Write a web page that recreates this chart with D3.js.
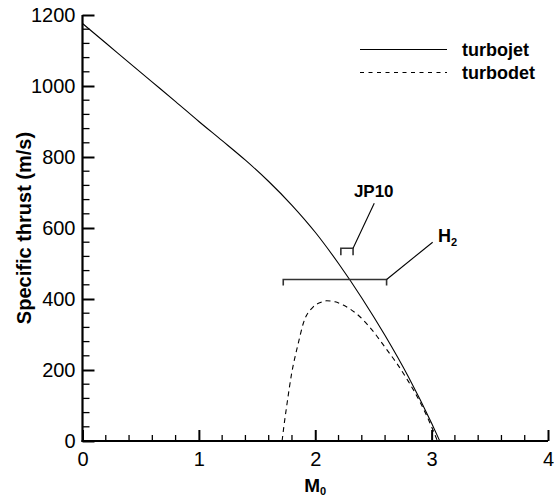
<!DOCTYPE html>
<html><head><meta charset="utf-8">
<script src="https://cdn.jsdelivr.net/npm/d3@7"></script>
<style>body{margin:0;background:#fff}svg{display:block}text{font-family:"Liberation Sans",Arial,sans-serif}</style>
</head><body><svg id="c" width="554" height="498"></svg>
<script>
// Data
const turbojetM = [0, 0.2, 0.4, 0.6, 0.8, 1.0, 1.2, 1.4, 1.6, 1.8, 2.0, 2.2, 2.4, 2.6, 2.8, 3.0, 3.07];
const turbojetF = [1176, 1121, 1066, 1011, 956, 900, 846, 791, 731, 664, 588, 500, 403, 297, 181, 50, 0];
const turbodetM = [1.715, 1.73, 1.754, 1.797, 1.854, 1.897, 1.983, 2.05, 2.098, 2.17, 2.24, 2.384, 2.5, 2.613, 2.7, 2.8, 2.9, 3.0, 3.05];
const turbodetF = [0, 40, 97, 190, 275, 331, 378, 391, 395, 392, 383, 350, 308, 258, 219, 168, 110, 40, 0];
const xTicks = [0, 1, 2, 3, 4];
const yTicks = [0, 200, 400, 600, 800, 1000, 1200];
const legendNames = ["turbojet", "turbodet"];
const jp10Bracket = [2.22, 2.325, 543];   // M from, M to, thrust
const h2Bracket = [1.725, 2.613, 455];
const jp10Leader = [2.325, 543, 2.507, 670];
const h2Leader = [2.613, 455, 3.009, 560];
const jp10Label = [2.332, 687];
const h2Label = [3.054, 561];

const svg = d3.select("#c");
const x = d3.scaleLinear().domain([0, 4]).range([82.5, 548]);
const y = d3.scaleLinear().domain([0, 1200]).range([441, 15]);

// minor ticks
const xMinor = d3.range(0, 4.0001, 0.2).filter(v => Math.abs(v - Math.round(v)) > 1e-6);
const yMinor = d3.range(0, 1200.1, 40).filter(v => v % 200 !== 0);

const gx = svg.append("g").attr("transform", `translate(0,${y(0)})`);
gx.selectAll("line.mi").data(xMinor).join("line")
  .attr("x1", d => x(d)).attr("x2", d => x(d)).attr("y1", 0).attr("y2", -6)
  .attr("stroke", "#000").attr("stroke-width", 1.3);
gx.call(d3.axisBottom(x).tickValues(xTicks).tickSize(-11).tickPadding(11).tickFormat(d3.format("d")))
  .call(g => g.select(".domain").attr("stroke-width", 2.2).attr("d", `M${x(0)-1},0H${x(4)}`))
  .call(g => g.selectAll(".tick line").attr("stroke-width", 2))
  .call(g => g.selectAll(".tick text").attr("font-size", 20).attr("font-family", "Liberation Sans, Arial").attr("fill", "#000"));

const gy = svg.append("g").attr("transform", `translate(${x(0)},0)`);
gy.selectAll("line.mi").data(yMinor).join("line")
  .attr("y1", d => y(d)).attr("y2", d => y(d)).attr("x1", 0).attr("x2", 7)
  .attr("stroke", "#000").attr("stroke-width", 1.3);
gy.call(d3.axisLeft(y).tickValues(yTicks).tickSize(-12).tickPadding(7).tickFormat(d3.format("d")))
  .call(g => g.select(".domain").attr("stroke-width", 2.2).attr("d", `M0,${y(0)+1}V${y(1200)}`))
  .call(g => g.selectAll(".tick line").attr("stroke-width", 2))
  .call(g => g.selectAll(".tick text").attr("font-size", 20).attr("font-family", "Liberation Sans, Arial").attr("fill", "#000"));

// axis titles
svg.append("text").attr("transform", `translate(31,${(y(0)+y(1200))/2}) rotate(-90)`)
  .attr("text-anchor", "middle").attr("font-size", 20).attr("font-weight", "bold").text("Specific thrust (m/s)");
const mt = svg.append("text").attr("x", x(2)).attr("y", 492).attr("text-anchor", "middle")
  .attr("font-size", 19).attr("font-weight", "bold");
mt.append("tspan").text("M");
mt.append("tspan").attr("font-size", 11).attr("dy", 3).text("0");

// curves
const line = d3.line().x(d => x(d[0])).y(d => y(d[1])).curve(d3.curveMonotoneX);
svg.append("path").datum(d3.zip(turbojetM, turbojetF)).attr("d", line)
  .attr("fill", "none").attr("stroke", "#000").attr("stroke-width", 1.1);
svg.append("path").datum(d3.zip(turbodetM, turbodetF)).attr("d", line)
  .attr("fill", "none").attr("stroke", "#000").attr("stroke-width", 1.1).attr("stroke-dasharray", "5,4");

// brackets
function bracket(b, tick) {
  const p = d3.path();
  p.moveTo(x(b[0]), y(b[2]) + tick); p.lineTo(x(b[0]), y(b[2]));
  p.lineTo(x(b[1]), y(b[2])); p.lineTo(x(b[1]), y(b[2]) + tick);
  svg.append("path").attr("d", p.toString()).attr("fill", "none").attr("stroke", "#333").attr("stroke-width", 1.6);
}
bracket(jp10Bracket, 7);
bracket(h2Bracket, 6);
[jp10Leader, h2Leader].forEach(l => svg.append("line")
  .attr("x1", x(l[0])).attr("y1", y(l[1])).attr("x2", x(l[2])).attr("y2", y(l[3]))
  .attr("stroke", "#000").attr("stroke-width", 1.1));
svg.append("text").attr("x", x(jp10Label[0])).attr("y", y(jp10Label[1]))
  .attr("font-size", 17).attr("font-weight", "bold").text("JP10");
const ht = svg.append("text").attr("x", x(h2Label[0])).attr("y", y(h2Label[1]))
  .attr("font-size", 18).attr("font-weight", "bold");
ht.append("tspan").text("H");
ht.append("tspan").attr("font-size", 11).attr("dy", 4).text("2");

// legend
const lg = svg.append("g");
legendNames.forEach((n, i) => {
  const yy = 49.5 + i * 23;
  lg.append("line").attr("x1", 360).attr("x2", 447).attr("y1", yy).attr("y2", yy)
    .attr("stroke", "#000").attr("stroke-width", 1.1).attr("stroke-dasharray", i ? "4,4.5" : null);
  lg.append("text").attr("x", 462).attr("y", yy + 6).attr("font-size", 18).attr("font-weight", "bold").text(n);
});
</script></body></html>
